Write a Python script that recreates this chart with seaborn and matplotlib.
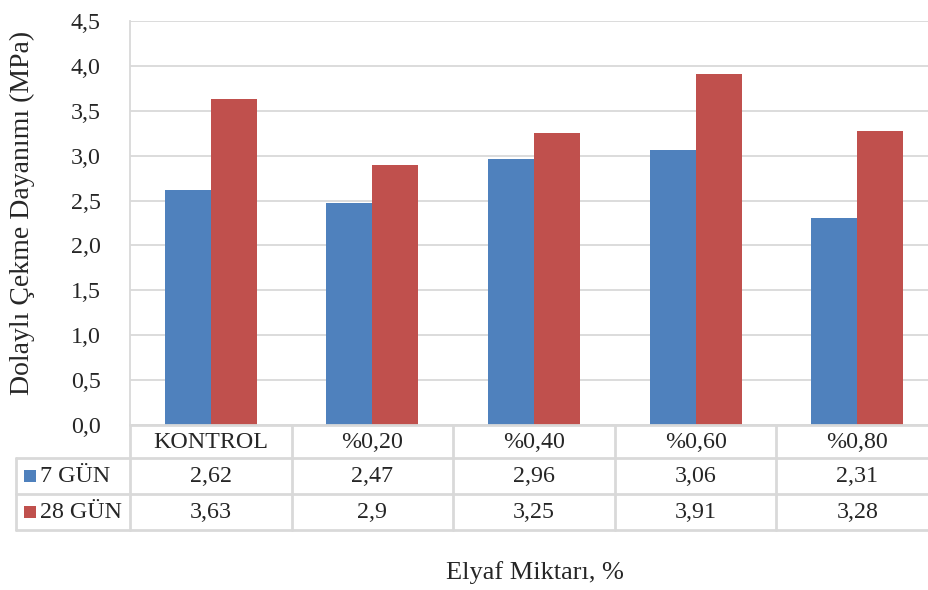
import matplotlib
matplotlib.use("Agg")
import matplotlib.pyplot as plt
import seaborn as sns
import pandas as pd
from matplotlib.lines import Line2D
from matplotlib.patches import Rectangle

categories = ["KONTROL", "%0,20", "%0,40", "%0,60", "%0,80"]
series_names = ["7 GÜN", "28 GÜN"]
values_7 = [2.62, 2.47, 2.96, 3.06, 2.31]
values_28 = [3.63, 2.90, 3.25, 3.91, 3.28]
value_labels_7 = ["2,62", "2,47", "2,96", "3,06", "2,31"]
value_labels_28 = ["3,63", "2,9", "3,25", "3,91", "3,28"]
y_ticks = [0.0, 0.5, 1.0, 1.5, 2.0, 2.5, 3.0, 3.5, 4.0, 4.5]
y_tick_labels = ["0,0", "0,5", "1,0", "1,5", "2,0", "2,5", "3,0", "3,5", "4,0", "4,5"]
colors = ["#4F81BD", "#C0504D"]

df = pd.DataFrame({
    "Kategori": categories * 2,
    "Seri": [series_names[0]] * len(categories) + [series_names[1]] * len(categories),
    "Deger": values_7 + values_28,
})

sns.set_style("white")
plt.rcParams["font.family"] = ["Liberation Serif", "DejaVu Serif"]

W, H = 929, 590
fig = plt.figure(figsize=(W / 100, H / 100), dpi=100)

# plot area in pixel coordinates (left, top, right, bottom)
L, T, R, B = 130, 21, 938, 425
ax = fig.add_axes([L / W, 1 - B / H, (R - L) / W, (B - T) / H])

fs = 17.3

sns.barplot(data=df, x="Kategori", y="Deger", hue="Seri", order=categories,
            hue_order=series_names, palette=colors, width=0.57, saturation=1,
            ax=ax, legend=False, edgecolor="none")

ax.set_xlim(-0.5, len(categories) - 0.5)
ax.set_ylim(0, 4.5)
ax.set_yticks(y_ticks)
ax.set_yticklabels(y_tick_labels, fontsize=fs)
ax.tick_params(axis="y", length=0, pad=21)
ax.set_xticks([])
ax.set_xlabel("")
ax.set_ylabel("")
ax.yaxis.grid(True, color="#D9D9D9", linewidth=1.3)
ax.set_axisbelow(True)
for side in ["top", "right", "bottom"]:
    ax.spines[side].set_visible(False)
ax.spines["left"].set_color("#D9D9D9")
ax.spines["left"].set_linewidth(1.3)

grid_col = "#D9D9D9"
lw = 2.0


def fx(px):
    return px / W


def fy(py):
    return 1 - py / H


def hline(x0, x1, y):
    fig.add_artist(Line2D([fx(x0), fx(x1)], [fy(y), fy(y)], color=grid_col, lw=lw))


def vline(x, y0, y1):
    fig.add_artist(Line2D([fx(x), fx(x)], [fy(y0), fy(y1)], color=grid_col, lw=lw))


# data table below the plot
rows = [425, 458, 494, 530]
legend_left = 16
hline(L, R, rows[0])
for y in rows[1:]:
    hline(legend_left, R, y)
vline(legend_left, rows[1], rows[3])
col_w = (R - L) / len(categories)
for i in range(len(categories) + 1):
    vline(L + i * col_w, rows[0], rows[3])

for i, cat in enumerate(categories):
    cx = L + (i + 0.5) * col_w
    fig.text(fx(cx), fy((rows[0] + rows[1]) / 2 + 1), cat, ha="center", va="center", fontsize=fs)
    fig.text(fx(cx), fy((rows[1] + rows[2]) / 2 + 1), value_labels_7[i], ha="center", va="center", fontsize=fs)
    fig.text(fx(cx), fy((rows[2] + rows[3]) / 2 + 1), value_labels_28[i], ha="center", va="center", fontsize=fs)

for j, name in enumerate(series_names):
    cy = (rows[j + 1] + rows[j + 2]) / 2
    fig.add_artist(Rectangle((fx(24), fy(cy + 6)), 12 / W, 12 / H, facecolor=colors[j],
                             edgecolor="none", transform=fig.transFigure))
    fig.text(fx(40), fy(cy + 1), name, ha="left", va="center", fontsize=fs)

fig.text(fx(22), fy(213), "Dolaylı Çekme Dayanımı (MPa)", rotation=90,
         ha="center", va="center", fontsize=20)
fig.text(fx(535), fy(573), "Elyaf Miktarı, %", ha="center", va="center", fontsize=19)

fig.savefig("out.png", dpi=100, facecolor="white")
